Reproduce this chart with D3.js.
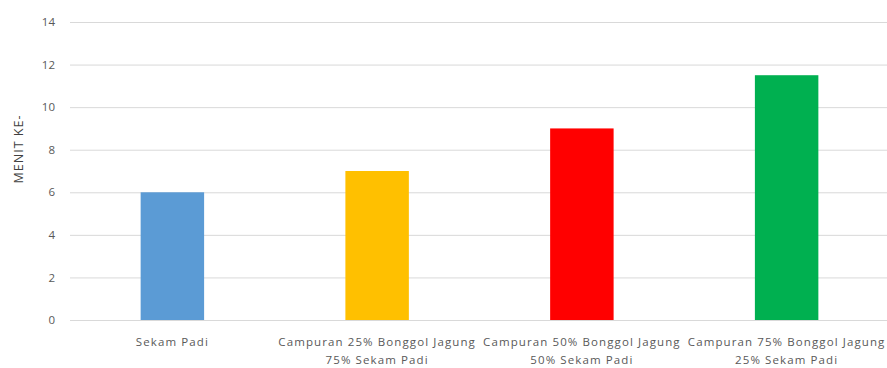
<!DOCTYPE html>
<html><head><meta charset="utf-8">
<script src="https://cdn.jsdelivr.net/npm/d3@7"></script>
<style>body{margin:0;background:#fff;} text{font-family:"Open Sans",sans-serif;}</style>
</head><body>
<svg id="c" width="887" height="368"></svg>
<script>
const categories = [
  ["Sekam Padi"],
  ["Campuran 25% Bonggol Jagung", "75% Sekam Padi"],
  ["Campuran 50% Bonggol Jagung", "50% Sekam Padi"],
  ["Campuran 75% Bonggol Jagung", "25% Sekam Padi"]
];
const values = [6, 7, 9, 11.5];
const colors = ["#5b9bd5", "#ffc000", "#ff0000", "#00b050"];
const yTicks = [0, 2, 4, 6, 8, 10, 12, 14];
const yTitle = "MENIT KE-";

const svg = d3.select("#c");
const m = {left: 70, right: -2, top: 22, bottom: 48};
const W = 887, H = 368;
const x = d3.scaleBand().domain(d3.range(categories.length)).range([m.left, W - m.right]).paddingInner(0.69).paddingOuter(0.345);
const y = d3.scaleLinear().domain([0, 14]).range([H - m.bottom, m.top]);

svg.append("g").selectAll("line").data(yTicks).join("line")
  .attr("x1", m.left).attr("x2", W).attr("y1", d => y(d) + 0.5).attr("y2", d => y(d) + 0.5)
  .attr("stroke", "#d9d9d9").attr("stroke-width", 1);

const ya = svg.append("g").attr("transform", `translate(${m.left - 15},0)`)
  .call(d3.axisLeft(y).tickValues(yTicks).tickSize(0).tickPadding(0));
ya.select(".domain").remove();
ya.selectAll("text").attr("fill", "#595959").style("font-size", "11.5px").style("font-family", "Open Sans");

svg.append("g").selectAll("rect").data(values).join("rect")
  .attr("x", (d, i) => x(i)).attr("width", x.bandwidth())
  .attr("y", d => y(d)).attr("height", d => y(0) - y(d))
  .attr("fill", (d, i) => colors[i]);

const xa = svg.append("g").selectAll("text").data(categories).join("text")
  .attr("x", (d, i) => x(i) + x.bandwidth() / 2).attr("y", 346)
  .attr("text-anchor", "middle").attr("fill", "#595959").style("font-size", "11.5px")
  .style("letter-spacing", "1.1px");
xa.selectAll("tspan").data(d => d).join("tspan")
  .attr("x", function() { return d3.select(this.parentNode).attr("x"); })
  .attr("dy", (d, i) => i === 0 ? 0 : 18).text(d => d);

svg.append("text").attr("transform", `translate(23,${(y(0)+y(14))/2 - 22}) rotate(-90)`)
  .attr("text-anchor", "middle").attr("fill", "#404040").style("font-size", "12.5px")
  .style("letter-spacing", "1px").text(yTitle);
</script>
</body></html>
